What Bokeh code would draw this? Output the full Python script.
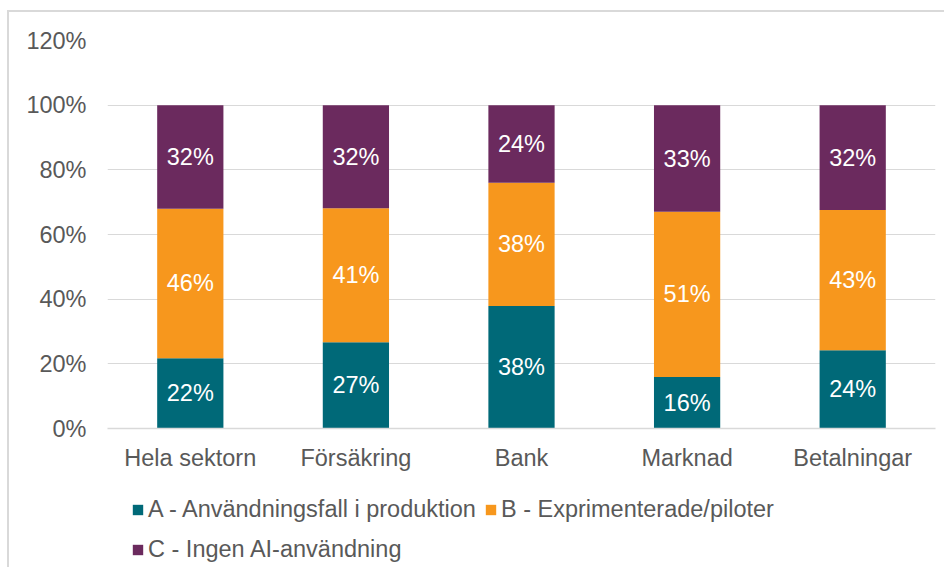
from bokeh.plotting import figure
from bokeh.layouts import column
from bokeh.models import FactorRange, Range1d, FixedTicker, PrintfTickFormatter, Legend, LegendItem, ColumnDataSource
from bokeh.core.properties import value
from bokeh.embed import file_html
from bokeh.resources import INLINE

categories = ["Hela sektorn", "Försäkring", "Bank", "Marknad", "Betalningar"]
series_a = [21.7, 26.7, 37.9, 15.9, 24.2]
series_b = [46.3, 41.4, 38.1, 51.1, 43.4]
series_c = [32.0, 31.9, 24.0, 33.0, 32.4]
series_names = ["A - Användningsfall i produktion", "B - Exprimenterade/piloter", "C - Ingen AI-användning"]
colors = ["#006978", "#F7971D", "#6B2A5E"]
y_ticks = [0, 20, 40, 60, 80, 100, 120]

FONT = "Liberation Sans"
GREY = "#595959"
FS = "23.5px"

p = figure(width=935, height=466, x_range=FactorRange(*categories), y_range=Range1d(0, 120),
           output_backend="svg", toolbar_location=None,
           min_border_left=98, min_border_right=9, min_border_top=28, min_border_bottom=50)
p.outline_line_color = None
p.background_fill_color = "white"

series = [series_a, series_b, series_c]
bottoms = [0.0] * len(categories)
for vals, name, col in zip(series, series_names, colors):
    tops = [b + v for b, v in zip(bottoms, vals)]
    mids = [(b + t) / 2 for b, t in zip(bottoms, tops)]
    src = ColumnDataSource(dict(x=categories, bottom=bottoms, top=tops, mid=mids,
                                lab=[f"{round(v):d}%" for v in vals]))
    p.vbar(x="x", bottom="bottom", top="top", width=0.4, source=src,
           fill_color=col, line_color=None)
    p.text(x="x", y="mid", text="lab", source=src, text_align="center", text_baseline="middle",
           text_color="white", text_font=value(FONT), text_font_size=FS)
    bottoms = tops

p.yaxis.ticker = FixedTicker(ticks=y_ticks)
p.yaxis.formatter = PrintfTickFormatter(format="%d%%")
p.yaxis.axis_line_color = None
p.yaxis.major_tick_line_color = None
p.yaxis.minor_tick_line_color = None
p.yaxis.major_label_standoff = 15
p.xaxis.axis_line_color = "#d9d9d9"
p.xaxis.axis_line_width = 1.5
p.xaxis.major_tick_line_color = None
p.xaxis.major_label_standoff = 10
for ax in (p.xaxis, p.yaxis):
    ax.major_label_text_font = FONT
    ax.major_label_text_font_size = FS
    ax.major_label_text_color = GREY
p.xgrid.grid_line_color = None
p.ygrid.grid_line_color = "#d9d9d9"
p.ygrid.grid_line_width = 1

# legend panel
pl = figure(width=935, height=89, x_range=Range1d(0, 1), y_range=Range1d(0, 1),
            output_backend="svg", toolbar_location=None,
            x_axis_location=None, y_axis_location=None,
            min_border_left=98, min_border_right=9, min_border_top=0, min_border_bottom=0)
pl.outline_line_color = None
pl.xgrid.grid_line_color = None
pl.ygrid.grid_line_color = None
items = []
for name, col in zip(series_names, colors):
    r = pl.vbar(x=[-5], top=[-5], bottom=[-6], width=0.1, fill_color=col, line_color=None)
    items.append(LegendItem(label=name, renderers=[r]))
legend = Legend(items=items, ncols=2, location=(24, 2), orientation="horizontal",
                label_text_font=FONT, label_text_font_size=FS, label_text_color=GREY,
                glyph_width=13, glyph_height=13, label_standoff=4, spacing=8,
                label_height=32, padding=0, margin=0, border_line_color=None,
                background_fill_alpha=0)
pl.add_layout(legend, "center")

layout = column(p, pl, spacing=0)
layout.styles = {"border-left": "2px solid #d9d9d9", "border-top": "2px solid #d9d9d9",
                 "margin-left": "7px", "margin-top": "10px"}

open("out.html", "w").write(file_html(layout, INLINE))
